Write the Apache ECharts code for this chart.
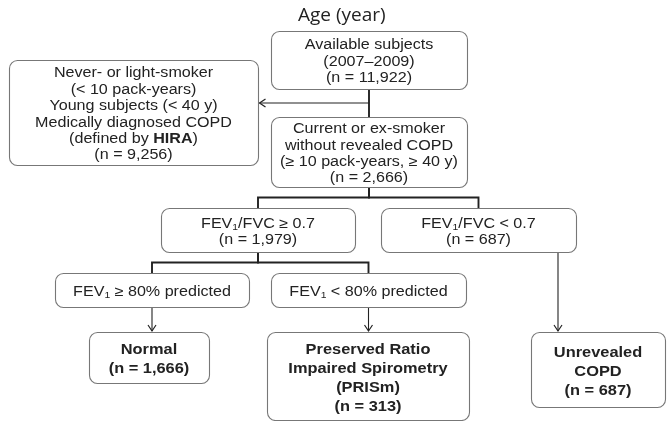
<!DOCTYPE html>
<html>
<head>
<meta charset="utf-8">
<script src="https://cdn.jsdelivr.net/npm/echarts@6/dist/echarts.min.js"></script>
<style>
  html, body { margin: 0; padding: 0; background: #fff; }
  #chart { width: 667px; height: 421px; }
</style>
</head>
<body>
<div id="chart"></div>
<script>
// Text of each step (the count is added below)
const stepTitles = [
    "Available subjects\n(2007–2009)",
    "Never- or light-smoker\n(< 10 pack-years)\nYoung subjects (< 40 y)\nMedically diagnosed COPD\n(defined by {b|HIRA})",
    "Current or ex-smoker\nwithout revealed COPD\n(≥ 10 pack-years, ≥ 40 y)",
    "FEV{s|1}/FVC ≥ 0.7",
    "FEV{s|1}/FVC < 0.7",
    "FEV{s|1} ≥ 80% predicted",
    "FEV{s|1} < 80% predicted",
    "Normal",
    "Preserved Ratio\nImpaired Spirometry\n(PRISm)",
    "Unrevealed\nCOPD"
];
// Number of subjects in each step, null when the box shows none
const stepCounts = [11922, 9256, 2666, 1979, 687, null, null, 1666, 313, 687];

// Links between steps: source index, target index, kind
const linkFrom = [0, 0, 2, 2, 3, 3, 5, 6, 4];
const linkTo   = [2, 1, 3, 4, 5, 6, 7, 8, 9];
const linkKind = ["tree", "side", "tree", "tree", "tree", "tree", "arrow", "arrow", "arrow"];

// Layout of the boxes (pixels of the 667x421 frame)
const boxLeft   = [271,   9, 271, 161, 381,  55, 271,  89, 267, 531];
const boxTop    = [ 31,  60, 117, 208, 208, 273, 273, 332, 332, 332];
const boxRight  = [467, 258, 467, 355, 576, 249, 466, 209, 469, 665];
const boxBottom = [ 89, 165, 187, 252, 252, 307, 307, 383, 420, 407];
const boldBoxes = [7, 8, 9];
const linkX     = [null, null, null, null, null, null, null, null, 558];

const ink = "#222";

function stepLabel(i) {
    let s = stepTitles[i];
    if (stepCounts[i] != null) s += "\n(n = " + stepCounts[i].toLocaleString("en-US") + ")";
    return s;
}

function renderBox(params, api) {
    const i = params.dataIndex;
    const p0 = api.coord([boxLeft[i], boxTop[i]]);
    const p1 = api.coord([boxRight[i], boxBottom[i]]);
    const bold = boldBoxes.includes(i);
    const lh = bold ? 19 : 16.4;
    return {
        type: "group",
        children: [
            {
                type: "rect",
                shape: { x: p0[0] + 0.5, y: p0[1] + 0.5, width: p1[0] - p0[0], height: p1[1] - p0[1], r: 8 },
                style: { fill: "#fff", stroke: "#777", lineWidth: 1.1 }
            },
            {
                type: "text",
                x: (p0[0] + p1[0]) / 2,
                y: (p0[1] + p1[1]) / 2 + 2,
                scaleX: bold ? 1.13 : 1.15,
                style: {
                    text: stepLabel(i),
                    fill: ink,
                    fontFamily: "Liberation Sans",
                    fontSize: bold ? 14.5 : 14,
                    fontWeight: bold ? "bold" : "normal",
                    lineHeight: lh,
                    align: "center",
                    verticalAlign: "middle",
                    rich: {
                        s: { fontSize: 9, fontFamily: "Liberation Sans", fill: ink, verticalAlign: "bottom", lineHeight: lh },
                        b: { fontSize: 14, fontFamily: "Liberation Sans", fontWeight: "bold", fill: ink, lineHeight: lh }
                    }
                }
            }
        ]
    };
}

function renderLink(params, api) {
    const k = params.dataIndex;
    const a = linkFrom[k], b = linkTo[k];
    const sx = (boxLeft[a] + boxRight[a]) / 2;
    const tx = (boxLeft[b] + boxRight[b]) / 2;
    let pts, head = null, thick = false;
    if (linkKind[k] === "tree") {
        const busY = (boxBottom[a] + boxTop[b]) / 2;
        pts = [[sx, boxBottom[a]], [sx, busY], [tx, busY], [tx, boxTop[b]]];
        thick = true;
    } else if (linkKind[k] === "side") {
        const y = (boxBottom[a] + boxTop[2]) / 2;
        pts = [[sx, y], [boxRight[b] + 1.5, y]];
        head = "left";
    } else {
        const x = linkX[k] != null ? linkX[k] : sx;
        pts = [[x, boxBottom[a]], [x, boxTop[b] - 1]];
        head = "down";
    }
    const px = pts.map(p => api.coord(p));
    const children = [{
        type: "polyline",
        shape: { points: px },
        style: { stroke: ink, lineWidth: thick ? 1.9 : 1.1, fill: null }
    }];
    const e = px[px.length - 1];
    if (head === "down") {
        children.push({ type: "polyline", shape: { points: [[e[0] - 4, e[1] - 6], e, [e[0] + 4, e[1] - 6]] },
            style: { stroke: ink, lineWidth: 1.2, fill: null } });
    } else if (head === "left") {
        children.push({ type: "polyline", shape: { points: [[e[0] + 6, e[1] - 4], e, [e[0] + 6, e[1] + 4]] },
            style: { stroke: ink, lineWidth: 1.2, fill: null } });
    }
    return { type: "group", children: children };
}

const chart = echarts.init(document.getElementById("chart"));

chart.setOption({
    animation: false,
    title: {
        text: "Age (year)",
        left: 298,
        top: 6,
        padding: 0,
        textStyle: { fontFamily: "Open Sans", fontSize: 19, fontWeight: "normal", color: ink }
    },
    grid: { left: 0, right: 0, top: 0, bottom: 0 },
    xAxis: { type: "value", min: 0, max: 667, show: false },
    yAxis: { type: "value", min: 0, max: 421, inverse: true, show: false },
    series: [
        {
            type: "custom",
            renderItem: renderLink,
            data: linkFrom.map((a, k) => [(boxLeft[a] + boxRight[a]) / 2, boxBottom[a]]),
            silent: true,
            z: 1
        },
        {
            type: "custom",
            renderItem: renderBox,
            data: stepTitles.map((t, i) => [(boxLeft[i] + boxRight[i]) / 2, (boxTop[i] + boxBottom[i]) / 2]),
            silent: true,
            z: 2
        }
    ]
});
</script>
</body>
</html>
